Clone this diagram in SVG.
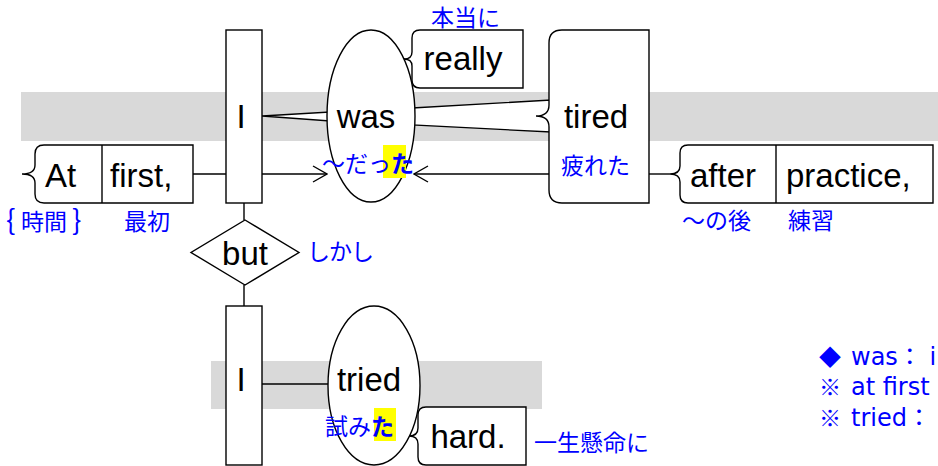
<svg xmlns="http://www.w3.org/2000/svg" width="938" height="466" viewBox="0 0 938 466">
<defs>
<style>
.band{fill:#d9d9d9}
.box{fill:#fff;stroke:#000;stroke-width:1.4}
.ln{fill:none;stroke:#000;stroke-width:1.4}
.wedge{fill:#fff;stroke:#000;stroke-width:1.3}
.en{font-family:"Liberation Sans",Arial,sans-serif;font-size:33px;fill:#000}
.jp{font-family:"Noto Sans CJK JP","Noto Sans",sans-serif;font-size:23px;fill:#0000ff}
.note{font-family:"DejaVu Sans","Noto Sans CJK JP",sans-serif;font-size:24px;fill:#0000ff}
.sym{font-family:"Noto Sans CJK JP",sans-serif;font-size:22px}
.hl{fill:#ffff00}
</style>
<marker id="chev" viewBox="0 0 16 18" refX="15" refY="9" markerWidth="16" markerHeight="18" markerUnits="userSpaceOnUse" orient="auto">
<path d="M1,1 L15,9 L1,17" fill="none" stroke="#000" stroke-width="1.4"/>
</marker>
</defs>

<rect class="band" x="21" y="92" width="917" height="49"/>
<rect class="band" x="211" y="361" width="331" height="48"/>

<g id="connectors">
<line class="ln" x1="193" y1="174" x2="226" y2="174"/>
<line class="ln" x1="262" y1="174" x2="327" y2="174" marker-end="url(#chev)"/>
<line class="ln" x1="549" y1="174" x2="414" y2="174" marker-end="url(#chev)"/>
<line class="ln" x1="649" y1="174" x2="670" y2="174"/>
<polygon class="wedge" points="262,116 330,112 330,121"/>
<polygon class="wedge" points="412,108 551,100 551,132 412,125"/>
<line class="ln" x1="244" y1="203" x2="244" y2="220"/>
<line class="ln" x1="244" y1="285" x2="244" y2="306"/>
<line class="ln" x1="262" y1="384" x2="329" y2="384"/>
<line class="ln" x1="400" y1="59" x2="405" y2="59"/>
</g>

<g id="node-atfirst">
<path class="box" d="M193,145 L44,145 Q35,145 35,154 L35,165 Q35,174 22,174 Q35,174 35,183 L35,194 Q35,203 44,203 L193,203 Z"/>
<line class="ln" x1="102" y1="145" x2="102" y2="203"/>
<text class="en" x="45" y="187">At</text>
<text class="en" x="110" y="187">first,</text>
<text class="jp" y="230"><tspan x="6" font-size="28">{</tspan><tspan x="21">時間</tspan><tspan x="72" font-size="28">}</tspan></text>
<text class="jp" font-size="24" x="124" y="230">最初</text>
</g>

<g id="node-I1">
<rect class="box" x="226" y="30" width="36" height="173"/>
<text class="en" x="241" y="128" text-anchor="middle">I</text>
</g>

<g id="node-was">
<ellipse class="box" cx="371" cy="116" rx="44" ry="86"/>
<text class="en" x="366" y="128" text-anchor="middle">was</text>
<rect class="hl" x="383" y="145" width="23" height="33"/>
<text class="jp" x="322" y="172">～だっ<tspan font-weight="bold">た</tspan></text>
</g>

<g id="node-really">
<path class="box" d="M523,30 L420,30 Q412,30 412,38 L412,52 Q412,59 404,59 Q412,59 412,66 L412,80 Q412,88 420,88 L523,88 Z"/>
<text class="en" x="463" y="70" text-anchor="middle">really</text>
<text class="jp" x="431" y="26">本当に</text>
</g>

<g id="node-tired">
<path class="box" d="M649,30 L562,30 Q549,30 549,43 L549,105 Q549,116 536,116 Q549,116 549,127 L549,190 Q549,203 562,203 L649,203 Z"/>
<text class="en" x="596" y="128" text-anchor="middle">tired</text>
<text class="jp" x="561" y="174">疲れた</text>
</g>

<g id="node-afterpractice">
<path class="box" d="M933,145 L688,145 Q680,145 680,153 L680,166 Q680,174 670,174 Q680,174 680,182 L680,195 Q680,203 688,203 L933,203 Z"/>
<line class="ln" x1="776" y1="145" x2="776" y2="203"/>
<text class="en" x="690" y="187">after</text>
<text class="en" x="786" y="187">practice,</text>
<text class="jp" x="682" y="229">～の後</text>
<text class="jp" font-size="24" x="788" y="229">練習</text>
</g>

<g id="node-but">
<polygon class="box" points="245,220 299,252.5 245,285 191,252.5"/>
<text class="en" x="245" y="265" text-anchor="middle">but</text>
<text class="jp" font-size="21" letter-spacing="-1" x="307" y="260">しかし</text>
</g>

<g id="node-I2">
<rect class="box" x="226" y="306" width="36" height="159"/>
<text class="en" x="241" y="391" text-anchor="middle">I</text>
</g>

<g id="node-tried">
<ellipse class="box" cx="374" cy="385.5" rx="46" ry="79.5"/>
<text class="en" x="369" y="391" text-anchor="middle">tried</text>
<rect class="hl" x="374" y="408" width="22" height="33"/>
<text class="jp" x="325" y="435">試み<tspan font-weight="bold">た</tspan></text>
</g>

<g id="node-hard">
<path class="box" d="M526,407 L426,407 Q418,407 418,415 L418,428 Q418,436 409,436 Q418,436 418,444 L418,457 Q418,465 426,465 L526,465 Z"/>
<text class="en" x="468" y="448" text-anchor="middle">hard.</text>
<text class="jp" font-size="24" x="534" y="451">一生懸命に</text>
</g>

<g id="notes">
<text class="note" x="819" y="365"><tspan class="sym">◆</tspan><tspan x="851">was：  i</tspan></text>
<text class="note" x="819" y="395"><tspan class="sym">※</tspan><tspan x="851">at first</tspan></text>
<text class="note" x="819" y="426"><tspan class="sym">※</tspan><tspan x="851">tried：</tspan></text>
</g>
</svg>
